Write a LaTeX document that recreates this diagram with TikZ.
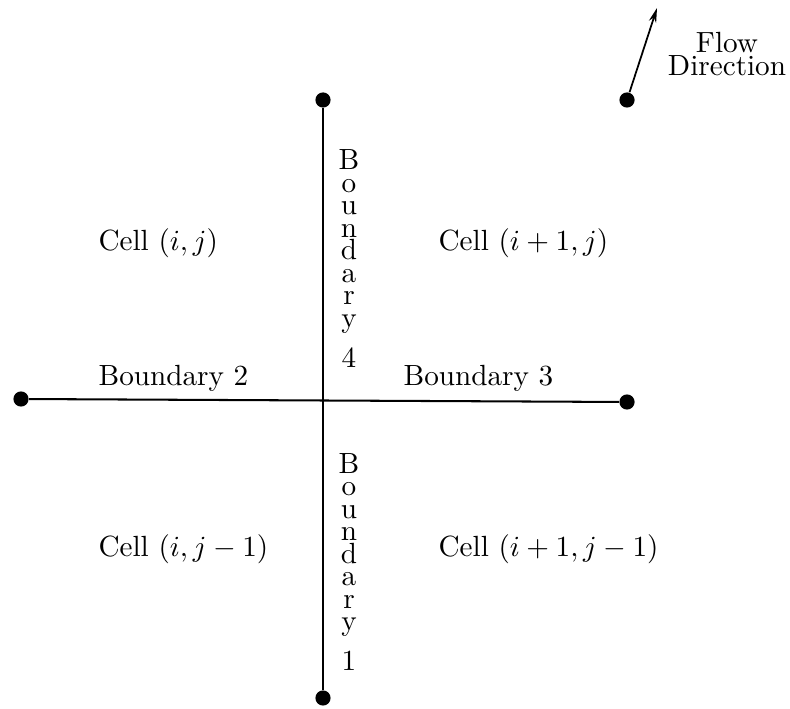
\documentclass[tikz,border=0pt]{standalone}
\usetikzlibrary{arrows.meta}
\begin{document}
\begin{tikzpicture}[x=0.3425pt,y=-0.3425pt,
  dot/.style={circle,fill=black,inner sep=0pt,minimum size=5.2pt},
  lbl/.style={anchor=base west,inner sep=0pt,font=\fontsize{10}{12}\selectfont},
  vlet/.style={anchor=base,inner sep=0pt,font=\fontsize{10}{12}\selectfont},
  edge/.style={line width=0.7pt}]
\useasboundingbox (0,0) rectangle (790,709);
% dots
\node[dot] (top) at (323,100) {};
\node[dot] (bot) at (323,698) {};
\node[dot] (left) at (21,399) {};
\node[dot] (right) at (627,402) {};
\node[dot] (flow) at (627,100) {};
\coordinate (tip) at (657,8);
% lines
\draw[edge] (top) -- (bot);
\draw[edge] (left) -- (right);
\draw[line width=0.6pt,-{Stealth[length=5pt,width=2.6pt]}] (flow) -- (tip);
% labels
\node[lbl] (c1) at (98,251) {Cell $(i,j)$};
\node[lbl] (c2) at (438,251) {Cell $(i+1,j)$};
\node[lbl] (c3) at (98,556) {Cell $(i,j-1)$};
\node[lbl] (c4) at (438,556) {Cell $(i+1,j-1)$};
\node[lbl] (b2) at (98,386) {Boundary 2};
\node[lbl] (b3) at (403,386) {Boundary 3};
\node[align=center,inner sep=0pt,anchor=base,font=\fontsize{10}{7.9}\selectfont] (fd) at (727,76) {Flow\\Direction};
% vertical labels
\foreach \ch [count=\k] in {B,o,u,n,d,a,r,y} {
  \node[vlet] (bf\k) at (349,{170+22.5*(\k-1)}) {\ch};
  \node[vlet] (bo\k) at (349,{473+22.5*(\k-1)}) {\ch};
}
\node[vlet] (bfn) at (349,368) {4};
\node[vlet] (bon) at (349,670) {1};
\end{tikzpicture}
\end{document}
